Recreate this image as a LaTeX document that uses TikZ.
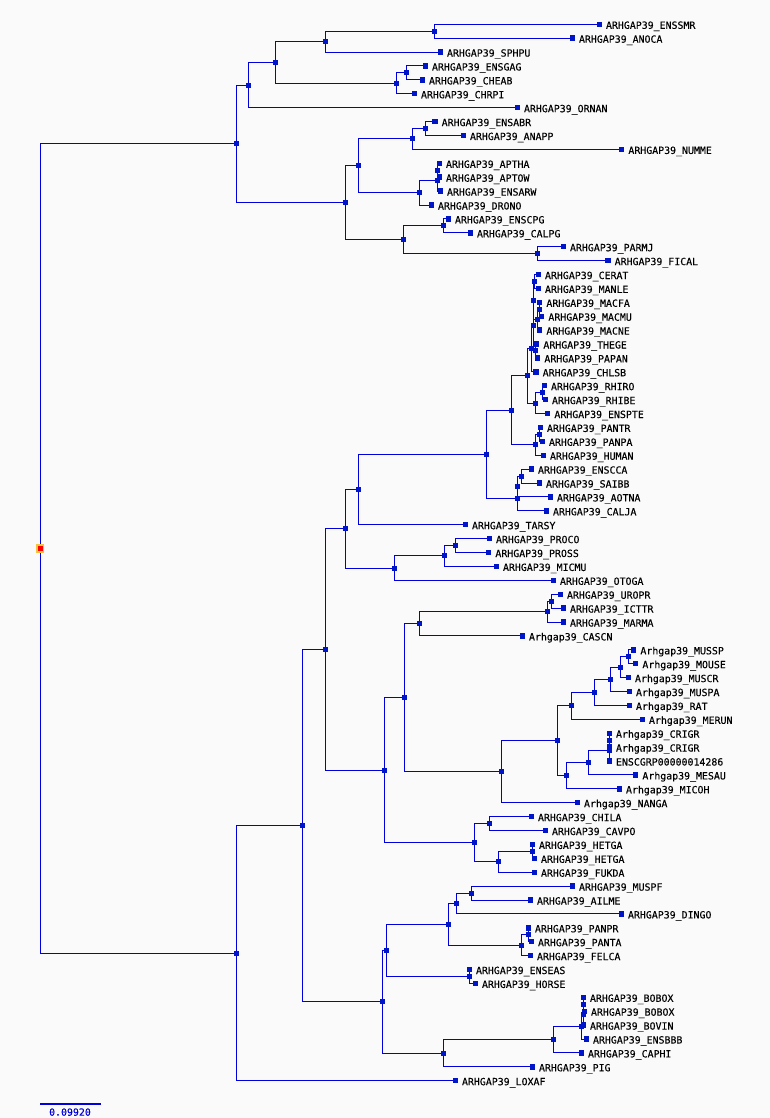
\documentclass[tikz,border=0pt]{standalone}
\usepackage{fontspec}
\newfontfamily\labfont[FakeBold=0.12]{DejaVu Sans Mono}
\definecolor{edgec}{RGB}{0,0,221}
\definecolor{sqc}{RGB}{0,20,200}
\definecolor{labc}{RGB}{0,0,0}
\definecolor{bgc}{RGB}{250,250,250}
\definecolor{rootout}{RGB}{242,196,64}
\definecolor{rootin}{RGB}{255,0,0}
\pgfdeclarelayer{back}
\pgfdeclarelayer{edges}
\pgfsetlayers{back,edges,main}
\newcommand\tleaf[4]{\node[leafsq] (#1) at (#2,#3) {};\node[lab] (#1t) at ([xshift=6.5pt,yshift=-4.5pt]#1.center) {#4};}
\newcommand\tnode[3]{\node[insq] (#1) at (#2,#3) {};}
\newcommand\tbr[3]{\draw[edge] (#1.center) |- (#2.center); \draw[edge] (#1.center) |- (#3.center);}
\begin{document}
\begin{tikzpicture}[x=1pt,y=-1pt,
  leafsq/.style={fill=sqc, draw=none, minimum size=5.4pt, inner sep=0pt, outer sep=0pt, shape=rectangle},
  insq/.style={fill=sqc, draw=none, minimum size=5pt, inner sep=0pt, outer sep=0pt, shape=rectangle},
  lab/.style={font=\labfont\fontsize{9.9}{10}\selectfont, text=labc, inner sep=0pt, anchor=base west},
  edge/.style={draw=edgec, line width=1pt},
  rootsq/.style={fill=rootin, draw=rootout, line width=1.85pt, minimum size=6.85pt, inner sep=0pt, shape=rectangle},
  scalebar/.style={draw=edgec, line width=2pt},
  scaletxt/.style={font=\labfont\fontsize{9.9}{10}\selectfont, text=edgec, inner sep=0pt, anchor=base}]
\useasboundingbox (0,0) rectangle (770,1118);
\begin{pgfonlayer}{back}
\fill[bgc] (0,0) rectangle (770,1118);
\end{pgfonlayer}
% ---- leaves ----
\tleaf{l1}{599.3}{24.3}{ARHGAP39\_ENSSMR}
\tleaf{l2}{572.3}{38.2}{ARHGAP39\_ANOCA}
\tleaf{l3}{440.3}{52.1}{ARHGAP39\_SPHPU}
\tleaf{l4}{425.3}{66.0}{ARHGAP39\_ENSGAG}
\tleaf{l5}{422.3}{79.9}{ARHGAP39\_CHEAB}
\tleaf{l6}{414.3}{93.8}{ARHGAP39\_CHRPI}
\tleaf{l7}{517.3}{107.7}{ARHGAP39\_ORNAN}
\tleaf{l8}{435.0}{121.6}{ARHGAP39\_ENSABR}
\tleaf{l9}{463.3}{135.5}{ARHGAP39\_ANAPP}
\tleaf{l10}{621.7}{149.4}{ARHGAP39\_NUMME}
\tleaf{l11}{439.3}{163.3}{ARHGAP39\_APTHA}
\tleaf{l12}{439.3}{177.2}{ARHGAP39\_APTOW}
\tleaf{l13}{440.3}{191.1}{ARHGAP39\_ENSARW}
\tleaf{l14}{431.3}{205.0}{ARHGAP39\_DRONO}
\tleaf{l15}{448.3}{218.9}{ARHGAP39\_ENSCPG}
\tleaf{l16}{470.3}{232.8}{ARHGAP39\_CALPG}
\tleaf{l17}{563.3}{246.7}{ARHGAP39\_PARMJ}
\tleaf{l18}{608.0}{260.6}{ARHGAP39\_FICAL}
\tleaf{l19}{538.3}{274.5}{ARHGAP39\_CERAT}
\tleaf{l20}{538.3}{288.4}{ARHGAP39\_MANLE}
\tleaf{l21}{539.7}{302.3}{ARHGAP39\_MACFA}
\tleaf{l22}{541.7}{316.2}{ARHGAP39\_MACMU}
\tleaf{l23}{539.7}{330.1}{ARHGAP39\_MACNE}
\tleaf{l24}{536.7}{344.0}{ARHGAP39\_THEGE}
\tleaf{l25}{537.7}{357.9}{ARHGAP39\_PAPAN}
\tleaf{l26}{536.0}{371.8}{ARHGAP39\_CHLSB}
\tleaf{l27}{544.3}{385.7}{ARHGAP39\_RHIRO}
\tleaf{l28}{545.3}{399.6}{ARHGAP39\_RHIBE}
\tleaf{l29}{547.7}{413.5}{ARHGAP39\_ENSPTE}
\tleaf{l30}{540.3}{427.4}{ARHGAP39\_PANTR}
\tleaf{l31}{542.3}{441.3}{ARHGAP39\_PANPA}
\tleaf{l32}{543.3}{455.2}{ARHGAP39\_HUMAN}
\tleaf{l33}{531.3}{469.1}{ARHGAP39\_ENSCCA}
\tleaf{l34}{539.3}{483.0}{ARHGAP39\_SAIBB}
\tleaf{l35}{550.3}{496.9}{ARHGAP39\_AOTNA}
\tleaf{l36}{546.3}{510.8}{ARHGAP39\_CALJA}
\tleaf{l37}{465.3}{524.7}{ARHGAP39\_TARSY}
\tleaf{l38}{489.3}{538.6}{ARHGAP39\_PROCO}
\tleaf{l39}{488.7}{552.5}{ARHGAP39\_PROSS}
\tleaf{l40}{496.3}{566.4}{ARHGAP39\_MICMU}
\tleaf{l41}{553.3}{580.3}{ARHGAP39\_OTOGA}
\tleaf{l42}{560.3}{594.2}{ARHGAP39\_UROPR}
\tleaf{l43}{563.3}{608.1}{ARHGAP39\_ICTTR}
\tleaf{l44}{563.3}{622.0}{ARHGAP39\_MARMA}
\tleaf{l45}{522.3}{635.9}{Arhgap39\_CASCN}
\tleaf{l46}{633.7}{649.8}{Arhgap39\_MUSSP}
\tleaf{l47}{635.7}{663.7}{Arhgap39\_MOUSE}
\tleaf{l48}{628.3}{677.6}{Arhgap39\_MUSCR}
\tleaf{l49}{629.3}{691.5}{Arhgap39\_MUSPA}
\tleaf{l50}{629.3}{705.4}{Arhgap39\_RAT}
\tleaf{l51}{642.3}{719.3}{Arhgap39\_MERUN}
\tleaf{l52}{609.3}{733.2}{Arhgap39\_CRIGR}
\tleaf{l53}{609.3}{747.1}{Arhgap39\_CRIGR}
\tleaf{l54}{609.3}{761.0}{ENSCGRP00000014286}
\tleaf{l55}{635.7}{774.9}{Arhgap39\_MESAU}
\tleaf{l56}{619.3}{788.8}{Arhgap39\_MICOH}
\tleaf{l57}{577.3}{802.7}{Arhgap39\_NANGA}
\tleaf{l58}{531.3}{816.6}{ARHGAP39\_CHILA}
\tleaf{l59}{545.3}{830.5}{ARHGAP39\_CAVPO}
\tleaf{l60}{532.3}{844.4}{ARHGAP39\_HETGA}
\tleaf{l61}{534.3}{858.3}{ARHGAP39\_HETGA}
\tleaf{l62}{534.3}{872.2}{ARHGAP39\_FUKDA}
\tleaf{l63}{572.3}{886.1}{ARHGAP39\_MUSPF}
\tleaf{l64}{530.3}{900.0}{ARHGAP39\_AILME}
\tleaf{l65}{621.3}{913.9}{ARHGAP39\_DINGO}
\tleaf{l66}{528.3}{927.8}{ARHGAP39\_PANPR}
\tleaf{l67}{531.3}{941.7}{ARHGAP39\_PANTA}
\tleaf{l68}{530.3}{955.6}{ARHGAP39\_FELCA}
\tleaf{l69}{469.3}{969.5}{ARHGAP39\_ENSEAS}
\tleaf{l70}{475.3}{983.4}{ARHGAP39\_HORSE}
\tleaf{l71}{583.3}{997.3}{ARHGAP39\_BOBOX}
\tleaf{l72}{584.3}{1011.2}{ARHGAP39\_BOBOX}
\tleaf{l73}{583.3}{1025.1}{ARHGAP39\_BOVIN}
\tleaf{l74}{586.3}{1039.0}{ARHGAP39\_ENSBBB}
\tleaf{l75}{581.3}{1052.9}{ARHGAP39\_CAPHI}
\tleaf{l76}{532.3}{1066.8}{ARHGAP39\_PIG}
\tleaf{l77}{455.3}{1080.7}{ARHGAP39\_LOXAF}
% ---- internal nodes: sauropsids ----
\tnode{smrano}{434.3}{31.25}
\tnode{sph}{325.7}{41.7}
\tnode{gag}{406.3}{72.95}
\tnode{chrpi}{396.3}{83.4}
\tnode{saur1}{275.3}{62.55}
\tnode{orn}{248.3}{85.1}
\tnode{abr}{425.3}{128.55}
\tnode{numme}{412.3}{138.98}
\tnode{apt}{437.3}{170.25}
\tnode{arw}{437.3}{180.7}
\tnode{drono}{419.3}{192.85}
\tnode{gal}{358.3}{165.9}
\tnode{cpg}{443.3}{225.85}
\tnode{parmj}{537.3}{253.65}
\tnode{cpgparmj}{403.3}{239.75}
\tnode{birds}{345.3}{202.8}
\tnode{sauria}{236}{143.95}
% ---- primates ----
\tnode{cerman}{534.3}{281.45}
\tnode{mfmm}{539.7}{309.25}
\tnode{mne}{537.7}{319.7}
\tnode{pC}{533.3}{300.6}
\tnode{thepap}{535.3}{350.95}
\tnode{pE}{533.3}{325.8}
\tnode{pF}{531}{348.8}
\tnode{rhi}{542.3}{392.65}
\tnode{pte}{535.3}{403.1}
\tnode{pG}{527.7}{375.95}
\tnode{pp}{539.3}{434.35}
\tnode{hu}{535.3}{444.8}
\tnode{pJ}{511.3}{410.4}
\tnode{ccasai}{521.3}{476.05}
\tnode{aot}{517.3}{486.5}
\tnode{cal}{517.3}{498.65}
\tnode{pK}{486.3}{454.5}
\tnode{pL}{358.3}{489.6}
\tnode{pro}{455.3}{545.55}
\tnode{mic}{444.3}{555.98}
\tnode{oto}{394.3}{568.1}
\tnode{pM}{345.7}{528.85}
% ---- rodents ----
\tnode{uroict}{551.3}{601.15}
\tnode{mar}{547.3}{611.6}
\tnode{cas}{419.3}{623.75}
\tnode{musmou}{628.3}{656.75}
\tnode{muscr}{620.3}{667.2}
\tnode{muspa}{610.3}{679.35}
\tnode{rat}{594.3}{692.4}
\tnode{merun}{571.3}{705.85}
\tnode{cricri}{609.3}{740.15}
\tnode{criens}{609.3}{750.6}
\tnode{mesau}{588.7}{762.75}
\tnode{micoh}{566.3}{775.8}
\tnode{muroid}{557.7}{740.8}
\tnode{nanga}{501.3}{771.75}
\tnode{rod}{404.3}{697.75}
\tnode{chicav}{489.3}{823.55}
\tnode{hethet}{532.3}{851.35}
\tnode{fuk}{498.3}{861.8}
\tnode{cav}{474.3}{842.7}
\tnode{glires}{384.3}{770.2}
\tnode{euarch}{325.7}{649.5}
% ---- laurasiatheria ----
\tnode{muspfail}{471.3}{893.05}
\tnode{din}{456.3}{903.5}
\tnode{panprta}{528.3}{934.75}
\tnode{fel}{521.3}{945.2}
\tnode{carn}{448.3}{924.35}
\tnode{eq}{469.3}{976.45}
\tnode{carneq}{386.3}{950.4}
\tnode{bob}{583.3}{1004.25}
\tnode{bov}{583.3}{1014.7}
\tnode{bbb}{581.3}{1026.85}
\tnode{cap}{553.3}{1039.9}
\tnode{pig}{443.3}{1053.35}
\tnode{laur}{382.3}{1001.9}
\tnode{boreo}{302.3}{825.7}
\tnode{mammal}{236}{953.2}
\node[rootsq] (root) at (40,548.6) {};
% ---- scale bar ----
\coordinate (sb1) at (40,1103.7);
\coordinate (sb2) at (100.7,1103.7);
\node[scaletxt] (sbt) at (70,1115.7) {0.09920};
% ---- connectors ----
\begin{pgfonlayer}{edges}
\tbr{root}{sauria}{mammal}
\tbr{sauria}{orn}{birds}
\tbr{orn}{saur1}{l7}
\tbr{saur1}{sph}{chrpi}
\tbr{sph}{smrano}{l3}
\tbr{smrano}{l1}{l2}
\tbr{chrpi}{gag}{l6}
\tbr{gag}{l4}{l5}
\tbr{birds}{gal}{cpgparmj}
\tbr{gal}{numme}{drono}
\tbr{numme}{abr}{l10}
\tbr{abr}{l8}{l9}
\tbr{drono}{arw}{l14}
\tbr{arw}{apt}{l13}
\tbr{apt}{l11}{l12}
\tbr{cpgparmj}{cpg}{parmj}
\tbr{cpg}{l15}{l16}
\tbr{parmj}{l17}{l18}
\tbr{mammal}{boreo}{l77}
\tbr{boreo}{euarch}{laur}
\tbr{euarch}{pM}{glires}
\tbr{pM}{pL}{oto}
\tbr{pL}{pK}{l37}
\tbr{pK}{pJ}{cal}
\tbr{pJ}{pG}{hu}
\tbr{pG}{pF}{pte}
\tbr{pF}{pE}{l26}
\tbr{pE}{pC}{thepap}
\tbr{pC}{cerman}{mne}
\tbr{cerman}{l19}{l20}
\tbr{mne}{mfmm}{l23}
\tbr{mfmm}{l21}{l22}
\tbr{thepap}{l24}{l25}
\tbr{pte}{rhi}{l29}
\tbr{rhi}{l27}{l28}
\tbr{hu}{pp}{l32}
\tbr{pp}{l30}{l31}
\tbr{cal}{aot}{l36}
\tbr{aot}{ccasai}{l35}
\tbr{ccasai}{l33}{l34}
\tbr{oto}{mic}{l41}
\tbr{mic}{pro}{l40}
\tbr{pro}{l38}{l39}
\tbr{glires}{rod}{cav}
\tbr{rod}{cas}{nanga}
\tbr{cas}{mar}{l45}
\tbr{mar}{uroict}{l44}
\tbr{uroict}{l42}{l43}
\tbr{nanga}{muroid}{l57}
\tbr{muroid}{merun}{micoh}
\tbr{merun}{rat}{l51}
\tbr{rat}{muspa}{l50}
\tbr{muspa}{muscr}{l49}
\tbr{muscr}{musmou}{l48}
\tbr{musmou}{l46}{l47}
\tbr{micoh}{mesau}{l56}
\tbr{mesau}{criens}{l55}
\tbr{criens}{cricri}{l54}
\tbr{cricri}{l52}{l53}
\tbr{cav}{chicav}{fuk}
\tbr{chicav}{l58}{l59}
\tbr{fuk}{hethet}{l62}
\tbr{hethet}{l60}{l61}
\tbr{laur}{carneq}{pig}
\tbr{carneq}{carn}{eq}
\tbr{carn}{din}{fel}
\tbr{din}{muspfail}{l65}
\tbr{muspfail}{l63}{l64}
\tbr{fel}{panprta}{l68}
\tbr{panprta}{l66}{l67}
\tbr{eq}{l69}{l70}
\tbr{pig}{cap}{l76}
\tbr{cap}{bbb}{l75}
\tbr{bbb}{bov}{l74}
\tbr{bov}{bob}{l73}
\tbr{bob}{l71}{l72}
\draw[scalebar] (sb1) -- (sb2);
\end{pgfonlayer}
\end{tikzpicture}
\end{document}
